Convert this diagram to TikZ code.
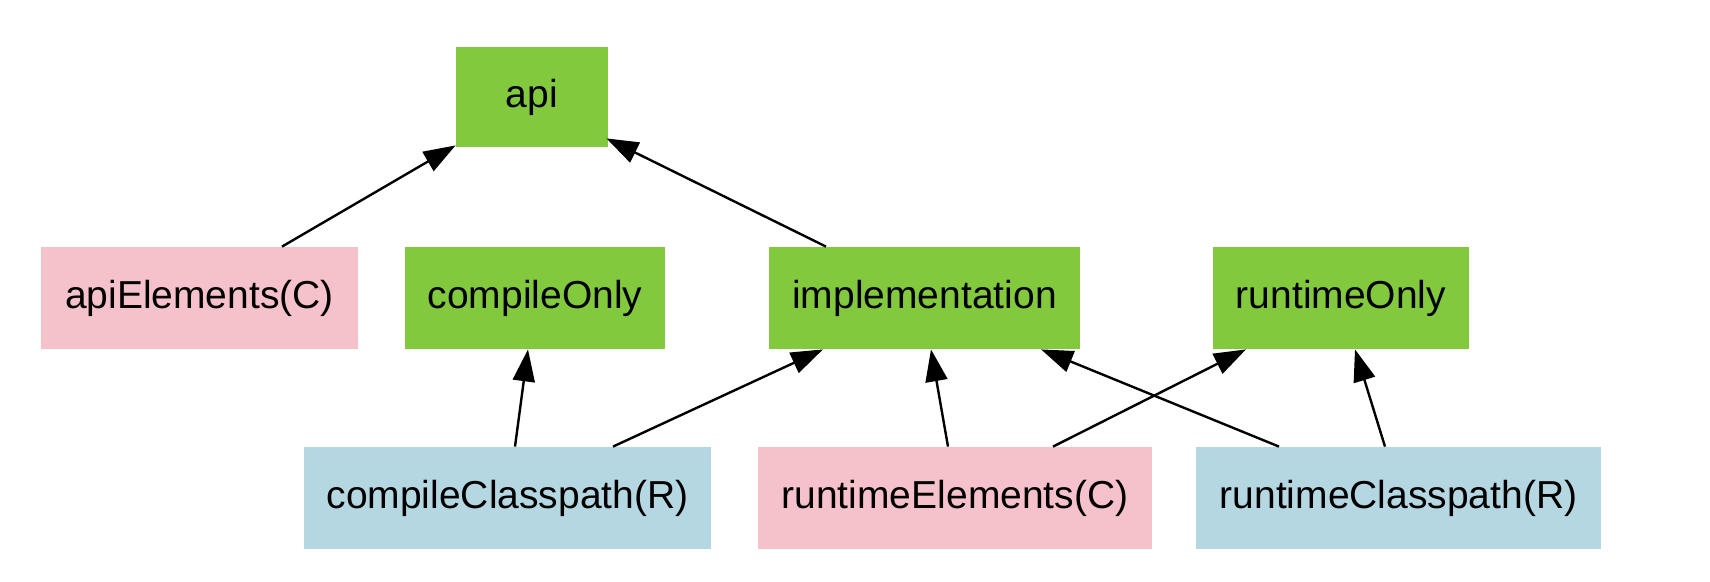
\documentclass[tikz,border=0pt]{standalone}
\usepackage{fontspec}
\setmainfont{Liberation Sans}
\usetikzlibrary{arrows.meta,calc}
\definecolor{gbox}{RGB}{130,201,62}
\definecolor{pbox}{RGB}{245,194,203}
\definecolor{bbox}{RGB}{180,215,226}
\begin{document}
\begin{tikzpicture}[x=0.5pt,y=-0.5pt,
  box/.style={minimum height=51pt,inner sep=0pt,font=\fontsize{19.5}{23}\selectfont},
  gnode/.style={box,fill=gbox},
  pnode/.style={box,fill=pbox},
  bnode/.style={box,fill=bbox},
  dep/.style={-{Triangle[length=16pt,width=11pt]},line width=1.2pt,black}]
\useasboundingbox (0,0) rectangle (1710,582);
\node[gnode,minimum width=76pt,minimum height=50pt] (api) at (532,97) {api};
\node[pnode,minimum width=158.5pt] (ae) at (199.5,298) {apiElements(C)};
\node[gnode,minimum width=130pt] (co) at (535,298) {compileOnly};
\node[gnode,minimum width=155.5pt] (impl) at (924.5,298) {implementation};
\node[gnode,minimum width=128pt] (ro) at (1341,298) {runtimeOnly};
\node[bnode,minimum width=203.5pt] (cc) at (507.5,498) {compileClasspath(R)};
\node[pnode,minimum width=197pt] (re) at (955,498) {runtimeElements(C)};
\node[bnode,minimum width=202.5pt] (rc) at (1398.5,498) {runtimeClasspath(R)};
\draw[dep] ($(ae.north)+(82.5,0)$) -- ($(api.south west)+(0,-2)$);
\draw[dep] ($(impl.north)+(-98.5,0)$) -- ($(api.south east)+(-2,-9)$);
\draw[dep] ($(cc.north)+(7.5,0)$) -- ($(co.south)+(-7,0)$);
\draw[dep] ($(cc.north)+(105.5,0)$) -- ($(impl.south)+(-101.5,0)$);
\draw[dep] ($(re.north)+(-7,0)$) -- ($(impl.south)+(6.5,0)$);
\draw[dep] ($(re.north)+(98,0)$) -- ($(ro.south)+(-95,0)$);
\draw[dep] ($(rc.north)+(-119.5,0)$) -- ($(impl.south)+(116.5,0)$);
\draw[dep] ($(rc.north)+(-13.5,0)$) -- ($(ro.south)+(14,0)$);
\end{tikzpicture}
\end{document}
